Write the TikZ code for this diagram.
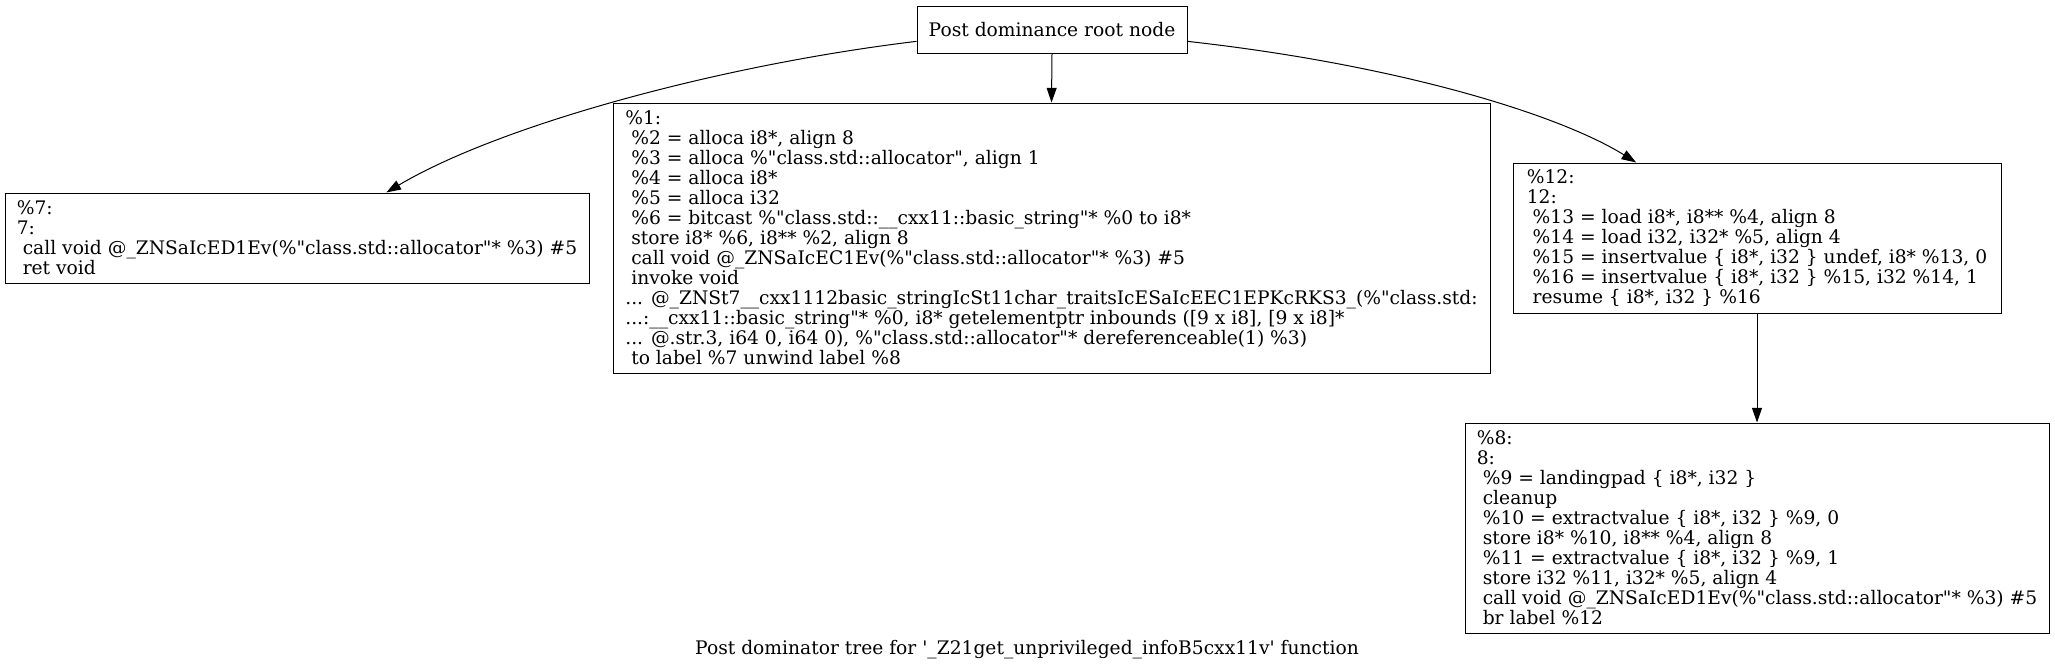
\documentclass[tikz,border=0pt]{standalone}
\usepackage{fontspec}
\setmainfont{DejaVu Serif}
\usetikzlibrary{arrows.meta}
\newcommand{\ind}{\hspace*{0.318em}}
\newcommand{\dq}{\textquotedbl}
\begin{document}
\begin{tikzpicture}[x=0.75pt,y=-0.75pt,
  box/.style={draw=black, line width=0.75pt, rectangle, align=left, inner sep=0pt,
    font=\fontsize{14}{15}\selectfont},
  edge/.style={draw=black, line width=0.75pt, -{Triangle[length=11pt,width=7.5pt]}},
  captionstyle/.style={inner sep=0pt, font=\fontsize{14}{15}\selectfont}]
\fill[white] (0,0) rectangle (2055,671);
\useasboundingbox (0,0) rectangle (2055,671);

\node[box, minimum width=202.5pt, minimum height=35.25pt] (root) at (1052,29.5) {Post dominance root node};

\node[box, minimum width=438pt, minimum height=67.5pt] (n7) at (297,238) {%
\%7:\\
7:\\
\ind call void @\_ZNSaIcED1Ev(\%\dq class.std::allocator\dq * \%3) \#5\\
\ind ret void};

\node[box, minimum width=657.75pt, minimum height=202.5pt] (n1) at (1051.5,238) {%
\%1:\\
\ind \%2 = alloca i8*, align 8\\
\ind \%3 = alloca \%\dq class.std::allocator\dq , align 1\\
\ind \%4 = alloca i8*\\
\ind \%5 = alloca i32\\
\ind \%6 = bitcast \%\dq class.std::\_\_cxx11::basic\_string\dq * \%0 to i8*\\
\ind store i8* \%6, i8** \%2, align 8\\
\ind call void @\_ZNSaIcEC1Ev(\%\dq class.std::allocator\dq * \%3) \#5\\
\ind invoke void\\
... @\_ZNSt7\_\_cxx1112basic\_stringIcSt11char\_traitsIcESaIcEEC1EPKcRKS3\_(\%\dq class.std:\\
...:\_\_cxx11::basic\_string\dq * \%0, i8* getelementptr inbounds ([9 x i8], [9 x i8]*\\
... @.str.3, i64 0, i64 0), \%\dq class.std::allocator\dq * dereferenceable(1) \%3)\\
\ind to label \%7 unwind label \%8};

\node[box, minimum width=366pt, minimum height=112.5pt] (n12) at (1757,238) {%
\%12:\\
12:\\
\ind \%13 = load i8*, i8** \%4, align 8\\
\ind \%14 = load i32, i32* \%5, align 4\\
\ind \%15 = insertvalue \{ i8*, i32 \} undef, i8* \%13, 0\\
\ind \%16 = insertvalue \{ i8*, i32 \} \%15, i32 \%14, 1\\
\ind resume \{ i8*, i32 \} \%16};

\node[box, minimum width=438pt, minimum height=157.5pt] (n8) at (1757,528) {%
\%8:\\
8:\\
\ind \%9 = landingpad \{ i8*, i32 \}\\
\ind cleanup\\
\ind \%10 = extractvalue \{ i8*, i32 \} \%9, 0\\
\ind store i8* \%10, i8** \%4, align 8\\
\ind \%11 = extractvalue \{ i8*, i32 \} \%9, 1\\
\ind store i32 \%11, i32* \%5, align 4\\
\ind call void @\_ZNSaIcED1Ev(\%\dq class.std::allocator\dq * \%3) \#5\\
\ind br label \%12};

\node[captionstyle] (cap) at (1027,650) {Post dominator tree for \textquotesingle\_Z21get\_unprivileged\_infoB5cxx11v\textquotesingle\ function};

\draw[edge] (root.185.7) .. controls (720,65) and (500,125) .. (n7.27.6);
\draw[edge] (root.south) -- (n1.north);
\draw[edge] (root.355.1) .. controls (1400,65) and (1560,115) .. (n12.148);
\draw[edge] (n12.south) -- (n8.north);
\end{tikzpicture}
\end{document}
